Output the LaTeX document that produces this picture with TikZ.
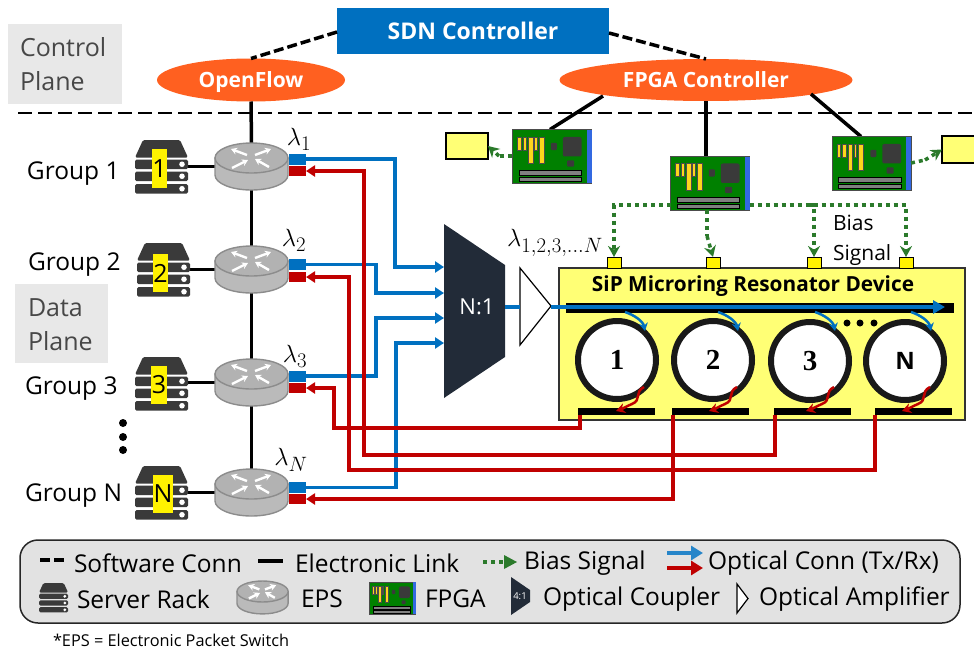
\documentclass[tikz,border=0pt]{standalone}
\usepackage{fontspec}
\setmainfont{Open Sans}
\newfontfamily\ringfont[BoldFont=Liberation Serif Bold]{Liberation Serif}
\usetikzlibrary{arrows.meta,shapes.geometric,calc}
\definecolor{wblue}{HTML}{0070C0}
\definecolor{wred}{HTML}{C00000}
\definecolor{wgreen}{HTML}{2B7A2B}
\definecolor{orangeE}{HTML}{FF6020}
\definecolor{devyel}{HTML}{FFFF75}
\definecolor{muxc}{HTML}{222B38}
\definecolor{rackc}{HTML}{3A3A3A}
\definecolor{lbl}{HTML}{E2E2E2}
\tikzset{
 ghost/.style={inner sep=0pt,outer sep=0pt},
 lab/.style={inner sep=0pt,outer sep=0pt,anchor=west,font=\fontsize{24.5}{28}\selectfont},
 lamlab/.style={inner sep=0pt,font=\fontsize{28}{30}\selectfont},
 elec/.style={line width=3.5pt,black},
 soft/.style={line width=3.5pt,black,dash pattern=on 10pt off 4pt},
 txw/.style={line width=3.5pt,wblue,-{Triangle[length=9pt,width=11pt]}},
 rxw/.style={line width=3.5pt,wred,-{Triangle[length=9pt,width=11pt]}},
 bias/.style={line width=3.5pt,wgreen,dash pattern=on 4pt off 4pt,-{Stealth[length=11pt,width=12pt]}},
 biasn/.style={line width=3.5pt,wgreen,dash pattern=on 4pt off 4pt},
 pblue/.style={draw=none,fill=wblue,minimum width=17pt,minimum height=11pt,inner sep=0pt,outer sep=0pt},
 pred/.style={draw=none,fill=wred,minimum width=17pt,minimum height=10.5pt,inner sep=0pt,outer sep=0pt},
 ylab/.style={draw=none,fill=yellow,inner sep=0pt,minimum width=15.5pt,minimum height=38.5pt,font=\fontsize{25}{27}\selectfont},
 bar/.style={fill=black,draw=none,inner sep=0pt,outer sep=0pt,minimum height=7pt,minimum width=77pt},
 pad/.style={draw=black,line width=1pt,fill=yellow,inner sep=0pt,outer sep=0pt,minimum width=14pt,minimum height=11pt},
 ring/.style={circle,draw=black!90,line width=6pt,fill=white,minimum size=78pt,inner sep=0pt,font=\fontsize{24}{26}\selectfont\bfseries},
 ybox/.style={draw=black,line width=1.2pt,fill=devyel,inner sep=0pt,outer sep=0pt},
}
\newcommand{\rackicon}[3]{%
 \begin{scope}[shift={(#1,#2)},scale=#3]
  \fill[rackc,rounded corners=1.5pt] (0,17.5)--(8,0)--(45,0)--(53,17.5)--cycle;
  \foreach \yy in {19.5,31.5,44}{
   \fill[rackc,rounded corners=1.5pt] (0,\yy) rectangle (53,\yy+9.5);
   \fill[white] (47,\yy+4.75) circle (2.8);}
 \end{scope}}
\newcommand{\epsicon}[3]{%
 \begin{scope}[shift={(#1,#2)},scale=#3]
  \draw[draw=black!45,line width=1.4pt,fill=black!27]
    (0,15) -- (0,32) .. controls (0,40.3) and (16.3,47) .. (36.5,47) .. controls (56.7,47) and (73,40.3) .. (73,32) -- (73,15) -- cycle;
  \draw[draw=black!45,line width=1.4pt,fill=black!30] (36.5,15) ellipse[x radius=36.5,y radius=15];
  \foreach \xa/\ya/\xb/\yb in {16/6/32/12, 56/6/40/12, 40/16/54/24, 33/17/17/25}{
    \draw[white,line width=2.4pt,-{Stealth[length=6pt,width=7pt]}] (\xb,\yb)--(\xa,\ya);}
 \end{scope}}
\newcommand{\fpgaicon}[3]{%
 \begin{scope}[shift={(#1,#2)},scale=#3]
  \draw[draw=black!70,line width=1pt,fill=green!50!black] (0,0) rectangle (77,53);
  \fill[fill=wblue!60!blue!80] (72.5,0.5) rectangle (77,52.5);
  \foreach \xa/\xb/\yb in {5/8.3/19.7,10/13.3/19.7,15.7/20/33,21.3/24/19.7,25.7/30.7/33}{
   \draw[draw=black!70,line width=.3pt,fill=yellow!70!orange!90] (\xa,7.3) rectangle (\xb,\yb);}
  \fill[rackc,rounded corners=1pt] (37.3,13) rectangle (43.3,20);
  \fill[rackc,rounded corners=2pt] (49,7.3) rectangle (67.3,26.3);
  \fill[rackc,rounded corners=1pt] (53.3,30) rectangle (60,36.3);
  \draw[draw=black,line width=.3pt,fill=black!50] (6,40) rectangle (67.3,44.7);
  \draw[draw=black,line width=.3pt,fill=black!50] (6,46.7) rectangle (67.3,50.7);
 \end{scope}}
\begin{document}
\begin{tikzpicture}[x=1pt,y=-1pt]
\useasboundingbox (0,0) rectangle (974,651);
% plane boxes
\node[ghost,fill=black!9,minimum width=114pt,minimum height=80pt] (cpb) at (65,63.5) {};
\node[ghost,align=left,text=black!72,font=\fontsize{25}{34}\selectfont,anchor=west] (cpt) at (20,64) {Control\\Plane};
\node[ghost,fill=black!9,minimum width=93pt,minimum height=79pt] (dpb) at (61.5,323.5) {};
\node[ghost,align=left,text=black!72,font=\fontsize{25}{34}\selectfont,anchor=west] (dpt) at (28,325) {Data\\Plane};
% top nodes
\node[ghost,fill=wblue,minimum width=272pt,minimum height=46pt,text=white,font=\fontsize{23}{26}\selectfont\bfseries] (sdn) at (473,31) {SDN Controller};
\node[ghost,ellipse,fill=orangeE,minimum width=188pt,minimum height=43pt,text=white,text depth=0pt,font=\fontsize{21}{24}\selectfont\bfseries] (of) at (251,80) {OpenFlow};
\node[ghost,ellipse,fill=orangeE,minimum width=293pt,minimum height=42pt,text=white,font=\fontsize{21}{24}\selectfont\bfseries] (fc) at (706,80) {FPGA Controller};
% separator
\coordinate (sepL) at (18,113); \coordinate (sepR) at (974,113);
\draw[line width=2pt,dash pattern=on 14pt off 6pt] (sepL)--(sepR);
% named anchors of icons
\node[ghost,minimum width=53pt,minimum height=53pt] (rk1) at (161.5,166.5) {};
\node[ghost,minimum width=53pt,minimum height=53pt] (rk2) at (163.5,269.5) {};
\node[ghost,minimum width=53pt,minimum height=53pt] (rk3) at (161.5,382.5) {};
\node[ghost,minimum width=53pt,minimum height=53pt] (rkN) at (161.5,492.5) {};
\node[ghost,minimum width=73pt,minimum height=47pt] (sw1) at (251.5,166.5) {};
\node[ghost,minimum width=73pt,minimum height=47pt] (sw2) at (251.5,269.5) {};
\node[ghost,minimum width=73pt,minimum height=47pt] (sw3) at (251.5,382.5) {};
\node[ghost,minimum width=73pt,minimum height=47pt] (swN) at (251.5,492.5) {};
\node[ghost,minimum width=79pt,minimum height=54pt] (fp1) at (552,156.5) {};
\node[ghost,minimum width=79pt,minimum height=54pt] (fp2) at (710,183) {};
\node[ghost,minimum width=79pt,minimum height=54pt] (fp3) at (871.5,163.5) {};
% software + electronic links
\draw[soft] (sdn.west |- 0,32) -- (of.north);
\draw[soft] (sdn.east |- 0,33) -- (fc.north);
\draw[elec] (of.south) -- (sw1.north);
\draw[elec] (sw1.south) -- (sw2.north);
\draw[elec] (sw2.south) -- (sw3.north);
\draw[elec] (sw3.south) -- (swN.north);
\draw[elec] (rk1.east) -- (sw1.west);
\draw[elec] (rk2.east) -- (sw2.west);
\draw[elec] (rk3.east) -- (sw3.west);
\draw[elec] (rkN.east) -- (swN.west);
\coordinate (fcL) at (603,96); \coordinate (fpT1) at (550,129.5);
\coordinate (fcR) at (811,94); \coordinate (fpT3) at (861,136.5);
\draw[elec] (fcL) -- (fpT1);
\draw[elec] (fc.south) -- (fc.south |- fp2.north);
\draw[elec] (fcR) -- (fpT3);
% icons
\rackicon{135}{140}{1}\rackicon{137}{243}{1}\rackicon{135}{357}{1}\rackicon{135}{466}{1}
\epsicon{215}{143}{1}\epsicon{215}{246}{1}\epsicon{215}{359}{1}\epsicon{215}{469}{1}
\fpgaicon{512.5}{129.5}{1.026}\fpgaicon{670.5}{156}{1.026}\fpgaicon{832}{136.5}{1.026}
% rack labels
\node[ylab] (y1) at (159.5,168.5) {1};
\node[ylab] (y2) at (160.5,273) {2};
\node[ylab] (y3) at (159,385) {3};
\node[ylab,minimum width=20pt] (yN) at (163,494) {N};
% group labels
\node[lab] (g1) at (27,174) {Group 1};
\node[lab] (g2) at (28,265) {Group 2};
\node[lab] (g3) at (25,389) {Group 3};
\node[lab] (gN) at (25,496) {Group N};
\foreach \yy in {423,437,450} \fill (123,\yy) circle (4);
% ports
\node[pblue] (p1b) at (297.5,159) {};\node[pred] (p1r) at (297.5,171) {};
\node[pblue] (p2b) at (297.5,264.5) {};\node[pred] (p2r) at (297.5,277) {};
\node[pblue] (p3b) at (297.5,376) {};\node[pred] (p3r) at (297.5,388) {};
\node[pblue] (pNb) at (297.5,487.5) {};\node[pred] (pNr) at (297.5,499) {};
\node[lamlab] (l1) at (299,139) {$\lambda_1$};
\node[lamlab] (l2) at (294,240) {$\lambda_2$};
\node[lamlab] (l3) at (295,356) {$\lambda_3$};
\node[lamlab] (lN) at (291,460) {$\lambda_N$};
% mux, amp
\fill[muxc] (444,224) -- (505,265) -- (505,357) -- (444,398) -- cycle;
\node[ghost,text=white,font=\fontsize{22}{24}\selectfont] (mux) at (477,307) {N:1};
\coordinate (m1) at (444,267);\coordinate (m2) at (444,293);\coordinate (m3) at (444,318);\coordinate (m4) at (444,343);
\coordinate (muxout) at (505,307);
\draw[line width=1.2pt,fill=white] (520,268) -- (551,306) -- (520,345) -- cycle;
\coordinate (ampin) at (520,307);\coordinate (ampout) at (551,307);
\node[lamlab,font=\fontsize{30}{32}\selectfont] (lall) at (555,243) {$\lambda_{1,2,3,\ldots N}$};
% device
\node[ybox,minimum width=406pt,minimum height=152pt,anchor=north west,draw=black!80] (dev) at (559,268) {};
\node[ghost,font=\fontsize{20.8}{24}\selectfont\bfseries] (devt) at (753,286) {SiP Microring Resonator Device};
\node[fill=black,ghost,minimum width=388pt,minimum height=10pt,anchor=west] (wg) at (566,308) {};
\node[ring] (r1) at (617,360) {\fontsize{29}{30}\selectfont\ringfont 1};
\node[ring] (r2) at (713,360) {\fontsize{29}{30}\selectfont\ringfont 2};
\node[ring] (r3) at (810,361) {\fontsize{29}{30}\selectfont\ringfont 3};
\node[ring] (r4) at (905,361) {N};
\node[bar] (b1) at (616.5,411.5) {};
\node[bar] (b2) at (710,411.5) {};
\node[bar] (b3) at (812.5,411.5) {};
\node[bar] (b4) at (913,411.5) {};
\foreach \xx in {847,860,874} \fill (\xx,323) circle (3.5);
\foreach \dd in {0,93,190,286}{
 \draw[wblue,line width=2.5pt,-{Stealth[length=8pt,width=9pt]}] (625+\dd,312) .. controls (634+\dd,315) and (643+\dd,321) .. (645+\dd,331);
 \draw[wred,line width=2.5pt,-{Stealth[length=9pt,width=10pt]}] (644+\dd,387) .. controls (634+\dd,392) and (642+\dd,400) .. (632+\dd,404) .. controls (627+\dd,406) and (622+\dd,409) .. (616+\dd,411);
}
% optical signal through amp
\draw[wblue,line width=3.5pt] (muxout) -- (ampin);
\draw[wblue,line width=3.5pt,-{Triangle[length=12pt,width=13pt]}] (ampout) -- (945,307);
% pads
\node[pad] (pd1) at (614,262.5) {};
\node[pad] (pd2) at (713,262.5) {};
\node[pad] (pd3) at (814,262.5) {};
\node[pad] (pd4) at (906,262.5) {};
\node[ybox,minimum width=42pt,minimum height=26pt] (bxL) at (467,146) {};
\node[ybox,minimum width=34pt,minimum height=27pt,anchor=west] (bxR) at (942,149.5) {};
% bias
\coordinate (fpL) at (fp2.west |- 0,205);\coordinate (fpR) at (fp2.east |- 0,205);
\draw[bias] (fpL) -| (pd1.north);
\draw[bias] (fpR) -| (pd4.north);
\draw[bias] ($(fpR)+(60,0)$) -| (pd3.north);
\coordinate (fpM) at (707,210);
\draw[biasn] (fpM) -- (707,236);
\draw[bias] (707,236) -- (pd2.north);
\coordinate (fp1o) at (512,156);\coordinate (fp1m) at (499,156);
\draw[biasn] (fp1o) -- (fp1m);
\draw[bias] (fp1m) -- (bxL.east);
\coordinate (fp3o) at (911,163);\coordinate (fp3m) at (925,160);
\draw[biasn] (fp3o) -- (fp3m);
\draw[bias] (fp3m) -- (bxR.west);
\node[ghost,align=left,anchor=west,font=\fontsize{21}{30}\selectfont] (bs) at (833,240) {Bias\\Signal};
% TX wires
\coordinate (v1) at (395,159);\coordinate (v2) at (376,264.5);\coordinate (v3) at (376,376);\coordinate (v4) at (396,487.5);
\draw[txw] (p1b.east) -- (v1) |- (m1);
\draw[txw] (p2b.east) -- (v2) |- (m2);
\draw[txw] (p3b.east) -- (v3) |- (m3);
\draw[txw] (pNb.east) -- (v4) |- (m4);
% RX wires
\coordinate (w1) at (580,415);\coordinate (w2) at (673,415);\coordinate (w3) at (775,415);\coordinate (w4) at (875,415);
\draw[rxw] (w3) |- (364,455) |- (p1r.east);
\draw[rxw] (w4) |- (349,470) |- (p2r.east);
\draw[rxw] (w1) |- (334,428) |- (p3r.east);
\draw[rxw] (w2) |- (pNr.east);
% legend
\node[draw=black!85,line width=1.5pt,fill=lbl,rounded corners=18pt,ghost,minimum width=940pt,minimum height=83pt,anchor=north west] (leg) at (20,540) {};
\coordinate (a1) at (40,560);\coordinate (a2) at (67,560);
\draw[soft] (a1) -- (a2);
\node[lab] (t1) at (74,563) {Software Conn};
\coordinate (a3) at (258,561);\coordinate (a4) at (283,561);
\draw[elec] (a3) -- (a4);
\node[lab] (t2) at (295,563) {Electronic Link};
\coordinate (a5) at (483,562);\coordinate (a6) at (517,562);
\draw[line width=3.5pt,wgreen,dash pattern=on 4pt off 4pt] (a5) -- ($(a6)+(-10,0)$);
\fill[wgreen] (a6) -- ($(a6)+(-13,-7)$) -- ($(a6)+(-13,7)$) -- cycle;
\node[lab] (t3) at (524,563) {Bias Signal};
\coordinate (a7) at (667,553);\coordinate (a8) at (703,553);
\draw[line width=3.5pt,wblue!85!white,-{Triangle[length=12pt,width=14pt]}] (a7) -- (a8);
\coordinate (a9) at (667,568);\coordinate (a10) at (703,568);
\draw[line width=3.5pt,red!75!black,-{Triangle[length=12pt,width=14pt]}] (a9) -- (a10);
\node[lab] (t4) at (708,563) {Optical Conn (Tx/Rx)};
\rackicon{39}{583}{.55}
\node[lab] (t5) at (77,599) {Server Rack};
\epsicon{237}{581}{.7}
\node[lab] (t6) at (301,599) {EPS};
\fpgaicon{369}{582}{.61}
\node[lab] (t7) at (425,599) {FPGA};
\fill[muxc] (511,577) -- (530,590) -- (530,602) -- (511,615) -- cycle;
\node[ghost,text=white,font=\fontsize{9.5}{11}\selectfont] (t8a) at (520,596) {4:1};
\node[lab] (t8) at (543,599) {Optical Coupler};
\draw[line width=1.2pt,fill=white] (737,584) -- (748,598.5) -- (737,613) -- cycle;
\node[lab] (t9) at (759,599) {Optical Amplifier};
\node[lab,font=\fontsize{16.3}{18}\selectfont] (fn) at (53,640) {*EPS = Electronic Packet Switch};
\end{tikzpicture}
\end{document}
